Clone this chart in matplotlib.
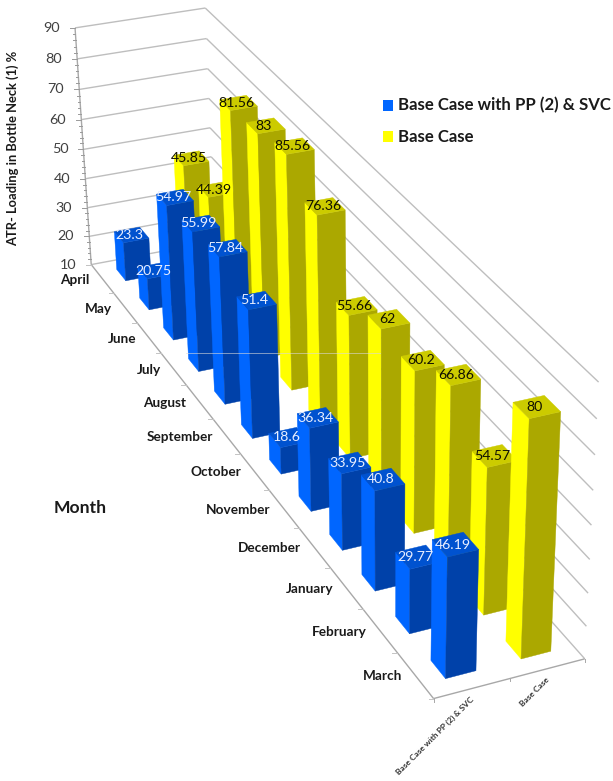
import numpy as np
import matplotlib
matplotlib.use("Agg")
import matplotlib.pyplot as plt
from matplotlib.patches import Polygon, Rectangle

plt.rcParams['font.family'] = ['Lato', 'DejaVu Sans']

# Chart data
months = ["April", "May", "June", "July", "August", "September", "October",
          "November", "December", "January", "February", "March"]
series_names = ["Base Case with PP (2) & SVC", "Base Case"]
with_pp_svc = [23.3, 20.75, 54.97, 55.99, 57.84, 51.4, 18.6, 36.34, 33.95, 40.8, 29.77, 46.19]
base_case = [45.85, 44.39, 81.56, 83, 85.56, 76.36, 55.66, 62, 60.2, 66.86, 54.57, 80]
value_ticks = [10, 20, 30, 40, 50, 60, 70, 80, 90]

# Camera: (month, series, value) anchors on the chart box and where they land on the canvas
box_anchors = [(0, 0, 10), (12, 0, 10), (12, 2, 10), (0, 2, 10),
               (0, 0, 90), (0, 2, 90), (12, 2, 90), (12, 1, 10)]
canvas_anchors = [(90, 263), (435, 699), (585, 658), (216, 243),
                  (76, 29), (204, 7), (599, 382), (508, 679)]


def solve_camera(world, image):
    rows, rhs = [], []
    for (x, y, z), (u, v) in zip(world, image):
        rows.append([x, y, z, 1, 0, 0, 0, 0, -u * x, -u * y, -u * z])
        rhs.append(u)
        rows.append([0, 0, 0, 0, x, y, z, 1, -v * x, -v * y, -v * z])
        rhs.append(v)
    p = np.linalg.lstsq(np.array(rows, float), np.array(rhs, float), rcond=None)[0]
    return np.append(p, 1.0).reshape(3, 4)


CAM = solve_camera(box_anchors, canvas_anchors)


def project(x, y, z):
    h = CAM @ np.array([x, y, z, 1.0])
    return h[0] / h[2], h[1] / h[2]


fig = plt.figure(figsize=(6.13, 7.81), dpi=100)
ax = fig.add_axes([0, 0, 1, 1])
ax.set_xlim(0, 613)
ax.set_ylim(781, 0)
ax.axis('off')

GRID = '#BEBEBE'
INK = '#1A1A1A'
z_floor, z_top = value_ticks[0], value_ticks[-1]
n_months, n_series = len(months), len(series_names)


def line3(a, b, color=GRID, lw=1.0, zorder=1):
    pa, pb = project(*a), project(*b)
    ax.plot([pa[0], pb[0]], [pa[1], pb[1]], color=color, lw=lw, zorder=zorder,
            solid_capstyle='butt')


# Walls: gridlines run along the back wall and the right wall
for v in value_ticks:
    line3((0, 0, v), (0, n_series, v))
    line3((0, n_series, v), (n_months, n_series, v))

# Value axis with its minor ticks
line3((0, 0, z_floor), (0, 0, z_top), color='#A8A8A8')
for v in np.arange(z_floor, z_top + 0.1, 2):
    px, py = project(0, 0, v)
    L = 5 if (v - z_floor) % 10 == 0 else 2.5
    ax.plot([px - L, px], [py, py], color='#9A9A9A', lw=0.7, zorder=1)

# Floor edges with tick marks
line3((0, 0, z_floor), (n_months, 0, z_floor), color='#A8A8A8')
line3((n_months, 0, z_floor), (n_months, n_series, z_floor), color='#A8A8A8')
for m in range(n_months + 1):
    px, py = project(m, 0, z_floor)
    ax.plot([px - 5, px], [py, py], color='#C4C4C4', lw=0.7, zorder=1)
for s in range(n_series + 1):
    px, py = project(n_months, s, z_floor)
    ax.plot([px, px], [py, py + 3], color='#A8A8A8', lw=0.7, zorder=1)

HALF = 0.2
PALETTE = [
    dict(side='#0066FF', front='#0041A9', top='#0052CF', text='#E8EEFF'),
    dict(side='#FFFF00', front='#ABA800', top='#CCCB00', text='#111100'),
]


def bar(m, s, value, colors, z):
    x0, x1 = m + 0.5 - HALF, m + 0.5 + HALF
    y0, y1 = s + 0.5 - HALF, s + 0.5 + HALF
    side = [(x0, y0, z_floor), (x1, y0, z_floor), (x1, y0, value), (x0, y0, value)]
    front = [(x1, y0, z_floor), (x1, y1, z_floor), (x1, y1, value), (x1, y0, value)]
    top = [(x0, y0, value), (x1, y0, value), (x1, y1, value), (x0, y1, value)]
    for face, key in ((side, 'side'), (front, 'front'), (top, 'top')):
        pts = [project(*p) for p in face]
        ax.add_patch(Polygon(pts, closed=True, facecolor=colors[key],
                             edgecolor=colors[key], lw=0.3, zorder=z))


# Painter's order: the far series first, then April through March; labels stay above all bars
for s, values in reversed(list(enumerate([with_pp_svc, base_case]))):
    for m, v in enumerate(values):
        bar(m, s, v, PALETTE[s], 2 + (1 - s) * 100 + m * 2)
        cx, cy = project(m + 0.5, s + 0.5, v)
        ax.text(cx - 2, cy, f"{v:g}", ha='center', va='center', fontsize=10.2,
                color=PALETTE[s]['text'], zorder=500)

# Value tick labels
for v in value_ticks:
    px, py = project(0, 0, v)
    ax.text(px - 15, py, str(v), ha='right', va='center', fontsize=10.4, color='#404040')

# Month labels beside the floor edge
for m, name in enumerate(months):
    px, py = project(m + 0.5, 0, z_floor)
    ax.text(px - 13, py + 1, name, ha='right', va='center', fontsize=9.8,
            fontweight='bold', color=INK)

# Series labels under the front edge
for s, name in enumerate(series_names):
    px, py = project(n_months, s + 0.5, z_floor)
    ax.text(px - 2, py + 7, name, ha='right', va='top', fontsize=6.0, fontweight='bold',
            rotation=45, rotation_mode='anchor', color='#333333')

ax.text(13, 148, "ATR- Loading in Bottle Neck (1) %", rotation=90, ha='center', va='center',
        fontsize=9.3, fontweight='bold', color=INK)
ax.text(80, 508, "Month", ha='center', va='center', fontsize=12.6, fontweight='bold', color=INK)

# Legend
for y, colour, name in zip((105.5, 136.5), ('#0066FF', '#FFFF00'), series_names):
    ax.add_patch(Rectangle((383, y - 5.5), 10, 11, facecolor=colour, edgecolor='none', zorder=3))
    ax.text(398, y, name, ha='left', va='center', fontsize=12.1, fontweight='bold', color=INK)

# Thin pale rule that crosses the bars
ax.plot([186, 380], [353, 353], color='#D8D8D8', lw=0.6, alpha=0.7, zorder=400)

fig.savefig("out.png", dpi=100)
